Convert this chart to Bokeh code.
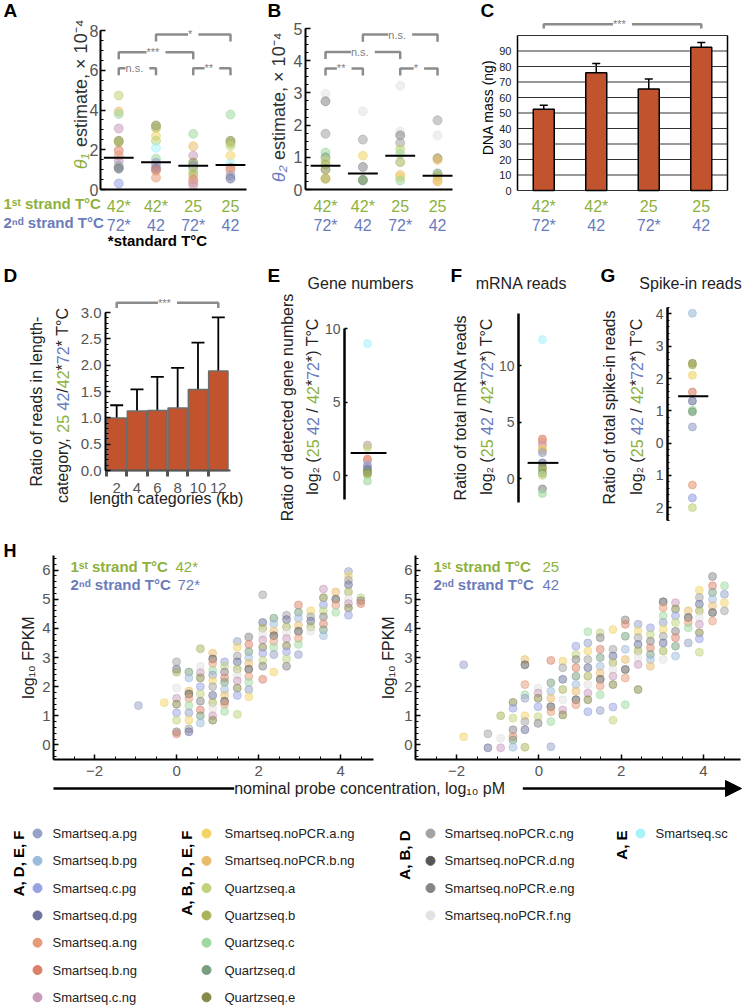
import math
from bokeh.plotting import figure
from bokeh.models import (Range1d, LinearAxis, FixedTicker, Label, Arrow, NormalHead,
                          Whisker, TeeHead, ColumnDataSource, PrintfTickFormatter)
from bokeh.layouts import column, row
from bokeh.embed import file_html
from bokeh.resources import INLINE
from bokeh.core.properties import value

FONT = "Liberation Sans"
GREEN = "#8db13c"
BLUE = "#6a7bbd"
DARK = "#222222"
TICKC = "#555555"
BAR = "#c1542f"
BRK = "#8c8c8c"

# ---------------- series / legend ----------------
SERIES = ["Smartseq.a.pg", "Smartseq.b.pg", "Smartseq.c.pg", "Smartseq.d.pg",
          "Smartseq.a.ng", "Smartseq.b.ng", "Smartseq.c.ng",
          "Smartseq.noPCR.a.ng", "Smartseq.noPCR.b.ng",
          "Quartzseq.a", "Quartzseq.b", "Quartzseq.c", "Quartzseq.d", "Quartzseq.e",
          "Smartseq.noPCR.c.ng", "Smartseq.noPCR.d.ng", "Smartseq.noPCR.e.ng", "Smartseq.noPCR.f.ng",
          "Smartseq.sc"]
SHORT = ["a.pg", "b.pg", "c.pg", "d.pg", "a.ng", "b.ng", "c.ng", "np.a", "np.b",
         "Q.a", "Q.b", "Q.c", "Q.d", "Q.e", "np.c", "np.d", "np.e", "np.f", "sc"]
COLORS = ["#96a2c8", "#9dbcdc", "#97a1e3", "#6e749e",
          "#e59b77", "#db816a", "#c99bbb",
          "#f2d466", "#eabb69",
          "#bfd479", "#aab35a", "#9ed99f", "#779f7f", "#858a4a",
          "#a3a3a3", "#565656", "#858585", "#e2e2e2",
          "#a6f3fa"]
GROUP_LABELS = ["A, D, E, F", "A, B, D, E, F", "A, B, D", "A, E"]
GROUP_SIZES = [7, 7, 4, 1]
CMAP = dict(zip(SHORT, COLORS))

# ---------------- panel A ----------------
COND_1ST = ["42*", "42*", "25", "25"]
COND_2ND = ["72*", "42", "72*", "42"]
A_COL = [1] * 13 + [2] * 11 + [3] * 11 + [4] * 10
A_VAL = [4.73, 3.92, 3.80, 3.07, 2.45, 2.38, 1.96, 1.70, 1.45, 1.20, 1.10, 1.05, 0.30,
         3.22, 3.10, 2.70, 2.45, 2.10, 1.55, 1.35, 1.20, 1.05, 0.95, 0.60,
         2.80, 2.17, 1.70, 1.35, 1.20, 1.10, 0.95, 0.75, 0.50, 0.35, 0.22,
         3.77, 2.45, 2.35, 2.20, 1.70, 1.30, 1.10, 0.95, 0.70, 0.55]
A_SER = ["Q.a", "np.b", "Q.c", "c.ng", "Q.e", "Q.b", "b.ng", "a.ng", "c.ng", "a.pg", "Q.b", "d.pg", "c.pg",
         "Q.e", "Q.b", "np.a", "Q.a", "sc", "Q.c", "a.pg", "c.ng", "d.pg", "b.ng", "a.ng",
         "Q.c", "np.b", "c.ng", "Q.e", "Q.d", "a.pg", "Q.a", "Q.b", "b.ng", "a.ng", "c.ng",
         "Q.c", "Q.e", "Q.b", "Q.a", "np.a", "sc", "b.ng", "a.ng", "a.pg", "d.pg"]
A_MEAN = [1.60, 1.37, 1.19, 1.23]
A_SIG = [(1, 2, "n.s."), (3, 4, "**"), (1, 3, "***"), (2, 4, "*")]

# ---------------- panel B ----------------
B_COL = [1] * 10 + [2] * 6 + [3] * 10 + [4] * 8
B_VAL = [2.97, 2.74, 1.73, 1.15, 1.00, 0.90, 0.78, 0.62, 0.35, 0.33,
         2.43, 1.55, 1.05, 0.70, 0.30, 0.28,
         3.22, 1.80, 1.68, 1.45, 1.25, 1.10, 0.85, 0.45, 0.38, 0.28,
         2.15, 1.68, 0.97, 0.92, 0.50, 0.42, 0.30, 0.25]
B_SER = ["np.f", "np.e", "np.c", "Q.c", "Q.d", "Q.a", "Q.b", "Q.e", "np.b", "Q.b",
         "np.f", "np.c", "np.a", "np.e", "Q.e", "Q.d",
         "np.f", "np.f", "np.e", "np.c", "Q.a", "Q.c", "Q.b", "np.b", "np.a", "Q.c",
         "np.c", "np.f", "Q.e", "np.b", "Q.d", "Q.b", "np.a", "np.b"]
B_MEAN = [0.74, 0.50, 1.05, 0.43]
B_SIG = [(1, 2, "**"), (3, 4, "*"), (1, 3, "n.s."), (2, 4, "n.s.")]

# ---------------- panel C ----------------
C_MEAN = [52.5, 76.0, 65.5, 92.5]
C_LO = [50.0, 70.0, 59.0, 89.0]
C_HI = [55.0, 82.0, 72.0, 95.5]
C_SIG = [(1, 4, "***")]

# ---------------- panel D ----------------
D_KB = [2, 4, 6, 8, 10, 12]
D_VAL = [1.00, 1.13, 1.14, 1.19, 1.54, 1.89]
D_LO = [0.75, 0.72, 0.49, 0.42, 0.62, 0.83]
D_HI = [1.24, 1.54, 1.78, 1.95, 2.43, 2.91]
D_SIG = [(2, 12, "***")]

# ---------------- panels E, F, G ----------------
E_VAL = [9.0, 2.1, 1.95, 1.15, 1.05, 0.75, 0.6, 0.45, 0.3, 0.2, 0.1, -0.35]
E_SER = ["sc", "c.ng", "Q.a", "b.ng", "a.ng", "c.pg", "a.pg", "d.pg", "Q.d", "Q.e", "Q.b", "Q.c"]
E_MEAN = 1.56
F_VAL = [12.3, 3.5, 3.25, 2.95, 2.65, 2.5, 2.3, 1.4, 1.0, 0.8, 0.5, 0.3, -0.9, -1.3]
F_SER = ["sc", "b.ng", "a.ng", "c.ng", "np.a", "np.b", "a.pg", "d.pg", "Q.e", "Q.b", "Q.d", "Q.a", "np.e", "Q.c"]
F_MEAN = 1.4
G_VAL = [4.02, 2.47, 2.42, 2.1, 1.58, 1.3, 1.02, 0.97, 0.5, -1.3, -1.7, -2.0]
G_SER = ["b.pg", "Q.e", "Q.b", "np.a", "b.ng", "d.pg", "Q.c", "Q.d", "a.pg", "a.ng", "c.pg", "Q.a"]
G_MEAN = 1.45

# ---------------- panel H ----------------
H_L_X = [-0.93, -0.3, 0.0, 0.3, 0.58, 0.88, 1.17, 1.48, 1.76, 2.1, 2.37, 2.68, 2.97, 3.27, 3.58, 3.88, 4.19, 4.49]
H_L_Y = [
    [1.35],
    [1.45],
    [2.85, 2.6, 2.5, 1.95, 1.6, 1.4, 1.1, 0.85, 0.45, 0.38],
    [2.5, 2.3, 1.85, 1.75, 1.6, 1.35, 1.1, 0.85, 0.55, 0.45],
    [3.3, 2.7, 2.48, 2.3, 2.0, 1.75, 1.5, 1.2, 1.0, 0.75],
    [3.15, 2.95, 2.8, 2.55, 2.4, 2.2, 2.0, 1.7, 1.45, 1.25, 1.0, 0.85],
    [2.85, 2.7, 2.5, 2.3, 2.15, 1.9, 1.7, 1.5, 1.4, 1.15],
    [3.55, 3.35, 3.05, 2.85, 2.6, 2.4, 2.2, 1.95, 1.7, 1.05],
    [3.7, 3.45, 3.2, 3.0, 2.8, 2.6, 2.35, 2.15, 1.9, 1.65],
    [5.15, 4.2, 4.0, 3.8, 3.6, 3.35, 3.15, 2.9, 2.7, 2.25],
    [4.35, 4.15, 3.9, 3.75, 3.55, 3.35, 3.1, 2.5],
    [4.45, 4.3, 4.05, 3.85, 3.65, 3.4, 3.2, 2.95, 2.7],
    [4.8, 4.55, 4.35, 4.1, 3.9, 3.65, 3.45, 3.1],
    [4.6, 4.4, 4.25, 4.05, 3.9],
    [5.35, 5.05, 4.8, 4.6, 4.4, 4.15, 3.95, 3.75],
    [5.25, 5.0, 4.8, 4.55],
    [5.95, 5.8, 5.65, 5.5, 5.25, 5.0, 4.85, 4.7, 4.45],
    [5.05, 4.95, 4.85],
]
H_R_X = [-1.83, -1.24, -0.93, -0.63, -0.34, -0.02, 0.29, 0.58, 0.9, 1.19, 1.49, 1.8, 2.1,
         2.41, 2.71, 3.02, 3.32, 3.63, 3.9, 4.22, 4.51]
H_R_Y = [
    [2.75, 0.28],
    [0.38, -0.1],
    [1.0, 0.23, -0.1],
    [1.46, 1.26, 0.92, 0.52, 0.28, 0.17, -0.08],
    [2.93, 2.75, 2.07, 1.72, 1.6, 1.0, 0.8, 0.52, -0.08],
    [1.95, 1.78, 1.6, 1.31, 0.97, 0.74],
    [2.9, 2.13, 1.84, 1.6, 1.31, 1.14, 0.8, -0.06],
    [2.88, 2.65, 2.25, 1.9, 1.55, 1.2, 1.03],
    [3.39, 3.1, 2.93, 2.65, 2.36, 2.07, 1.84, 1.55, 1.38],
    [3.88, 3.5, 3.22, 2.93, 2.65, 2.36, 2.07, 1.78, 1.55, 1.14],
    [3.85, 3.68, 3.28, 3.0, 2.7, 2.47, 2.25, 2.02, 1.72, 1.18],
    [3.96, 3.28, 3.05, 2.82, 2.59, 2.36, 2.07, 1.3, 0.85],
    [4.29, 4.14, 3.73, 3.28, 2.93, 2.59, 2.3, 1.38],
    [4.14, 3.9, 3.68, 3.45, 3.22, 3.0, 2.76, 1.9],
    [4.02, 3.79, 3.56, 3.33, 3.1, 2.93, 2.7],
    [4.91, 4.71, 4.43, 4.2, 3.96, 3.73, 3.5, 3.22, 2.93],
    [4.88, 4.66, 4.43, 4.2, 3.9, 3.68, 3.39, 3.05],
    [4.6, 4.37, 4.2, 4.02, 3.5],
    [5.31, 5.06, 4.83, 4.6, 4.37, 4.14, 3.85, 3.64, 3.18],
    [5.78, 5.46, 5.23, 5.0, 4.77, 4.54, 4.25],
    [5.46, 5.17, 4.88, 4.6],
]
H_TICKS_X = [-2, 0, 2, 4]
H_TICKS_Y = [0, 1, 2, 3, 4, 5, 6]

# ---------------- helpers ----------------
CW = {' ': 278, '(': 333, ')': 333, '*': 389, ',': 278, '-': 333, '.': 278, '/': 278,
      '°': 400, '×': 584, 'θ': 556, '₂': 400, '₁': 400, '₀': 400, '⁻': 350, '⁴': 400}
for ch, w in dict(A=667, B=667, C=722, D=722, E=667, F=611, G=778, H=722, I=278, J=500, K=667,
                  L=556, M=833, N=722, O=778, P=667, Q=778, R=722, S=667, T=611, U=722, V=667,
                  W=944, X=667, Y=667, Z=611, a=556, b=556, c=500, d=556, e=556, f=278, g=556,
                  h=556, i=222, j=222, k=500, l=222, m=833, n=556, o=556, p=556, q=556, r=333,
                  s=500, t=278, u=556, v=500, w=722, x=500, y=500, z=500).items():
    CW[ch] = w


def tw(s, size):
    return sum(CW.get(ch, 556) for ch in s) * size / 1000.0


def frange(a, b, step):
    n = int(round((b - a) / step))
    return [round(a + step * i, 4) for i in range(n + 1)]


class Panel:
    """A figure whose frame fills the whole canvas; (l, r, t, b) describe where the
    data area (xr, yr) sits inside it, so that axes (fixed_location) and texts can be
    drawn around it without being clipped."""

    def __init__(self, w, h, xr, yr, l, r, t, b):
        fw, fh = w - l - r, h - t - b
        self.ux = (xr[1] - xr[0]) / fw
        self.uy = (yr[1] - yr[0]) / fh
        self.xr, self.yr = xr, yr
        self.p = figure(width=w, height=h,
                        x_range=Range1d(xr[0] - l * self.ux, xr[1] + r * self.ux),
                        y_range=Range1d(yr[0] - b * self.uy, yr[1] + t * self.uy),
                        x_axis_type=None, y_axis_type=None, output_backend="svg",
                        toolbar_location=None, min_border_left=0, min_border_right=0,
                        min_border_top=0, min_border_bottom=0)
        self.p.outline_line_color = None

    def dx(self, px):
        return self.xr[0] + px * self.ux

    def dy(self, py):
        return self.yr[0] + py * self.uy

    def label(self, text, px, py, size=16, color=DARK, style="normal", align="left",
              baseline="middle", angle=0.0):
        self.p.add_layout(Label(x=self.dx(px), y=self.dy(py), text=text, text_font=FONT,
                                text_font_size=f"{size}px", text_color=color,
                                text_font_style=style, text_align=align,
                                text_baseline=baseline, angle=angle))

    def rot(self, pieces, cx, cy, size):
        total = sum(tw(t, size) for t, c, s in pieces)
        y = cy - total / 2
        for t, c, s in pieces:
            lead = len(t) - len(t.lstrip(" "))
            txt = t.strip(" ")
            if txt:
                self.label(txt, cx, y + tw(" " * lead, size), size, c, s, angle=math.pi / 2)
            y += tw(t, size)


def axis(pn, side, ticks, minor=(), size=15, color=TICKC, overrides=None, fmt=None, bounds=None,
         loc=None, line_color="black", line_width=2, tick_in=5, minor_in=3, standoff=4,
         tick_color="black"):
    if side == "left":
        loc = pn.xr[0] if loc is None else loc
        bounds = pn.yr if bounds is None else bounds
    else:
        loc = pn.yr[0] if loc is None else loc
        bounds = pn.xr if bounds is None else bounds
    ax = LinearAxis(ticker=FixedTicker(ticks=list(ticks), minor_ticks=list(minor)),
                    fixed_location=loc, bounds=tuple(bounds))
    ax.major_label_text_font = FONT
    ax.major_label_text_font_size = f"{size}px"
    ax.major_label_text_color = color
    ax.major_label_standoff = standoff
    ax.axis_line_color = line_color
    ax.axis_line_width = line_width
    ax.major_tick_line_color = tick_color
    ax.major_tick_line_width = 1.5
    ax.major_tick_in = tick_in
    ax.major_tick_out = 0
    ax.minor_tick_line_color = tick_color if minor else None
    ax.minor_tick_in = minor_in
    ax.minor_tick_out = 0
    if overrides:
        ax.major_label_overrides = overrides
    if fmt:
        ax.formatter = PrintfTickFormatter(format=fmt)
    pn.p.add_layout(ax, side)
    return ax


def cat_axes(pn, top, bot, size=16, line=True, standoff=8, gap=19):
    for labels, color, loc, lc in ((top, GREEN, pn.yr[0], "black" if line else None),
                                   (bot, BLUE, pn.dy(-gap), None)):
        ax = LinearAxis(ticker=FixedTicker(ticks=[1, 2, 3, 4]), fixed_location=loc,
                        bounds=tuple(pn.xr),
                        major_label_overrides={i + 1: t for i, t in enumerate(labels)})
        ax.major_tick_line_color = None
        ax.minor_tick_line_color = None
        ax.major_tick_out = 0
        ax.major_tick_in = 0
        ax.axis_line_color = lc
        ax.axis_line_width = 2
        ax.major_label_standoff = standoff
        ax.major_label_text_color = color
        ax.major_label_text_font = FONT
        ax.major_label_text_font_size = f"{size}px"
        pn.p.add_layout(ax, "below")


def sig_label(pn, x, y, text, size=11):
    pn.p.add_layout(Label(x=x, y=y, text=f" {text} ", text_font=FONT, text_font_size=f"{size}px",
                          text_color="#808080", text_align="center", text_baseline="middle",
                          background_fill_color="white"))


def bracket(pn, x1, x2, y, drop, text):
    pn.p.multi_line(xs=[[x1, x1, x2, x2]], ys=[[y - drop, y, y, y - drop]],
                    line_color=BRK, line_width=2.5)
    sig_label(pn, (x1 + x2) / 2, y, text)


def dots(pn, xs, vals, sers, size, alpha=0.55):
    src = ColumnDataSource(dict(x=xs, y=vals, c=[CMAP[s] for s in sers]))
    pn.p.scatter("x", "y", source=src, size=size, color="c", alpha=alpha)


LOG2 = [("log₂ (", DARK, "normal"), ("25", GREEN, "normal"), (" 42", BLUE, "normal"),
        (" / ", DARK, "normal"), ("42", GREEN, "normal"), ("*", DARK, "normal"),
        ("72", BLUE, "normal"), ("*", DARK, "normal"), (") T°C", DARK, "normal")]

# ================= A =================
A = Panel(248, 250, (0.51, 4.43), (0, 8), 100, 2, 30, 61)
axis(A, "left", [0, 2, 4, 6, 8], frange(0, 8, 0.5), size=16, standoff=2)
cat_axes(A, COND_1ST, COND_2ND)
dots(A, A_COL, A_VAL, A_SER, 9)
A.p.segment(x0=[c - 0.4 for c in range(1, 5)], x1=[c + 0.4 for c in range(1, 5)],
            y0=A_MEAN, y1=A_MEAN, line_color="black", line_width=2)
for (i, j, t), h in zip(A_SIG, [6.1, 6.1, 6.9, 7.8]):
    bracket(A, i, j, h, 0.35, t)
A.label("A", -97, 179, 19, "black", "bold")
A.rot([("θ₁", GREEN, "italic"), (" estimate, × 10⁻⁴", "#333333", "normal")], -20, 95, 18)
A.label("1ˢᵗ strand T°C", -97, -14, 15, GREEN, "bold")
A.label("2ⁿᵈ strand T°C", -97, -33, 15, BLUE, "bold")
A.label("*standard T°C", 57, -51, 15, "black", "bold", align="center")

# ================= B =================
B = Panel(230, 250, (0.464, 4.40), (0, 5), 57, 26, 28, 61)
axis(B, "left", [0, 1, 2, 3, 4, 5], frange(0, 5, 0.25), size=16, standoff=3)
cat_axes(B, COND_1ST, COND_2ND)
dots(B, B_COL, B_VAL, B_SER, 9)
B.p.segment(x0=[c - 0.4 for c in range(1, 5)], x1=[c + 0.4 for c in range(1, 5)],
            y0=B_MEAN, y1=B_MEAN, line_color="black", line_width=2)
for (i, j, t), h in zip(B_SIG, [3.76, 3.76, 4.27, 4.81]):
    bracket(B, i, j, h, 0.22, t)
B.label("B", -38, 179, 19, "black", "bold")
B.rot([("θ₂", BLUE, "italic"), (" estimate, × 10⁻⁴", "#333333", "normal")], -27, 82, 18)

# ================= C =================
C = Panel(266, 250, (0.5, 4.5), (0, 100), 39, 17, 35, 60)
C_GRID = list(range(0, 101, 10))
C.p.segment(x0=[C.xr[0]] * len(C_GRID), x1=[C.xr[1]] * len(C_GRID), y0=C_GRID, y1=C_GRID,
            line_color="#333333", line_width=1)
C.p.segment(x0=[C.xr[0], C.xr[1]], x1=[C.xr[0], C.xr[1]], y0=[0, 0], y1=[100, 100],
            line_color="black", line_width=1.5)
axis(C, "left", range(0, 91, 10), size=11, color="#222222", line_color=None, tick_color=None,
     tick_in=0, standoff=6)
cat_axes(C, COND_1ST, COND_2ND, line=False, standoff=7)
C.p.vbar(x=[1, 2, 3, 4], top=C_MEAN, width=0.4, bottom=0, fill_color=BAR, line_color="black",
         line_width=1.5)
srcC = ColumnDataSource(dict(x=[1, 2, 3, 4], lo=C_LO, hi=C_HI))
C.p.add_layout(Whisker(source=srcC, base="x", lower="lo", upper="hi", line_color="black",
                       line_width=1.5,
                       upper_head=TeeHead(size=8, line_width=1.5, line_color="black"),
                       lower_head=TeeHead(size=8, line_width=1.5, line_color="black")))
for (i, j, t) in C_SIG:
    bracket(C, i, j, 107.2, 2.7, t)
C.label("C", -37, 180, 19, "black", "bold")
C.label("DNA mass (ng)", -30, 83, 14, "black", align="center", angle=math.pi / 2)

# ================= D =================
D = Panel(250, 290, (0.9, 13.2), (0, 3.25), 105, 20, 49, 70)
axis(D, "left", frange(0, 3, 0.5), frange(0, 3, 0.1), size=15, fmt="%.1f", bounds=(0, 3),
     standoff=4)
dax = axis(D, "below", D_KB, [1, 3, 5, 7, 9, 11], size=15, line_color="#555555", tick_color=None,
           tick_in=0, standoff=6)
dax.minor_tick_line_color = "#555555"
dax.minor_tick_line_width = 3
dax.minor_tick_in = 0
dax.minor_tick_out = 6
D.p.vbar(x=D_KB, top=D_VAL, width=1.9, bottom=0, fill_color=BAR, line_color="#6d6d6d",
         line_width=1.5)
srcD = ColumnDataSource(dict(x=D_KB, lo=D_LO, hi=D_HI))
D.p.add_layout(Whisker(source=srcD, base="x", lower="lo", upper="hi", line_color="black",
                       line_width=1.8,
                       upper_head=TeeHead(size=13, line_width=1.8, line_color="black"),
                       lower_head=TeeHead(size=13, line_width=1.8, line_color="black")))
for (i, j, t) in D_SIG:
    bracket(D, i, j, 3.19, 0.1, t)
D.label("D", -102, 195, 19, "black", "bold")
D.label("Ratio of reads in length-", -69, 69, 16, DARK, align="center", angle=math.pi / 2)
D.rot([("category, ", DARK, "normal"), ("25", GREEN, "normal"), (" 42", BLUE, "normal"),
       ("/", DARK, "normal"), ("42", GREEN, "normal"), ("*", DARK, "normal"),
       ("72", BLUE, "normal"), ("*", DARK, "normal"), (" T°C", DARK, "normal")], -43, 65, 16)
D.label("length categories (kb)", 61, -28, 16, DARK, align="center")

# ================= E =================
E = Panel(200, 290, (-0.41, 0.59), (-1.6, 10.3), 94, 50, 74, 41)
axis(E, "left", [0, 5, 10], size=14, bounds=(-1.6, 10), tick_in=3, standoff=4, line_width=2.5)
dots(E, [0] * len(E_VAL), E_VAL, E_SER, 8, 0.6)
E.p.segment(x0=[-0.3], x1=[0.34], y0=[E_MEAN], y1=[E_MEAN], line_color="black", line_width=2)
E.label("E", -77, 224, 19, "black", "bold")
E.label("Gene numbers", 16, 216, 16, DARK, align="center")
E.label("Ratio of detected gene numbers", -57, 92, 16, DARK, align="center", angle=math.pi / 2)
E.rot(LOG2, -32, 93, 16)

# ================= F =================
F = Panel(150, 290, (-0.42, 0.58), (-2.1, 14.6), 68, 25, 63, 38)
axis(F, "left", [0, 5, 10], size=14, tick_in=3, standoff=4, line_width=2.5)
dots(F, [0] * len(F_VAL), F_VAL, F_SER, 8, 0.6)
F.p.segment(x0=[-0.26], x1=[0.28], y0=[F_MEAN], y1=[F_MEAN], line_color="black", line_width=2)
F.label("F", -68, 227, 19, "black", "bold")
F.label("mRNA reads", 3, 219, 16, DARK, align="center")
F.label("Ratio of total mRNA reads", -58, 95, 16, DARK, align="center", angle=math.pi / 2)
F.rot(LOG2, -32, 96, 16)

# ================= G =================
G = Panel(144, 290, (-0.47, 0.53), (-2.4, 4.2), 67, 24, 57, 20)
axis(G, "left", [-2, -1, 0, 1, 2, 3, 4], frange(-2.4, 4.2, 0.2), size=14,
     overrides={-2: "2", -1: "1"}, tick_in=4, minor_in=2, standoff=4, line_width=2.5)
dots(G, [0] * len(G_VAL), G_VAL, G_SER, 8, 0.6)
G.p.segment(x0=[-0.27], x1=[0.3], y0=[G_MEAN], y1=[G_MEAN], line_color="black", line_width=2)
G.label("G", -67, 245, 19, "black", "bold")
G.label("Spike-in reads", 23, 237, 16, DARK, align="center")
G.label("Ratio of total spike-in reads", -58, 113, 16, DARK, align="center", angle=math.pi / 2)
G.rot(LOG2, -31, 114, 16)


# ================= H =================
def h_points(pn, X, Y):
    xs, ys, cs = [], [], []
    k = 0
    for x, col in zip(X, Y):
        for yv in col:
            xs.append(x)
            ys.append(yv)
            cs.append(COLORS[(k * 7) % 18])
            k += 1
    pn.p.scatter(xs, ys, size=8, color=cs, alpha=0.5)


def h_axes(pn):
    axis(pn, "left", H_TICKS_Y, frange(-0.4, 6.4, 0.2), size=15, standoff=3, tick_in=5,
         minor_in=3)
    axis(pn, "below", H_TICKS_X, frange(-3, 4.5, 0.5), size=15, overrides={-2: "−2"},
         standoff=6, tick_in=5, minor_in=3)


HL = Panel(380, 239, (-3, 4.8), (-0.5, 6.5), 53, 7, 15, 20)
h_axes(HL)
h_points(HL, H_L_X, H_L_Y)
HL.label("H", -50, 209, 18, "black", "bold")
HL.label("log₁₀ FPKM", -25, 102, 16, DARK, align="center", angle=math.pi / 2)
HL.label("1ˢᵗ strand T°C", 17, 193, 15, GREEN, "bold")
HL.label(COND_1ST[0], 122, 193, 15, GREEN)
HL.label("2ⁿᵈ strand T°C", 17, 175, 15, BLUE, "bold")
HL.label(COND_2ND[0], 124, 175, 15, BLUE)

HR = Panel(364, 239, (-3, 4.9), (-0.5, 6.5), 35, 4, 15, 20)
h_axes(HR)
h_points(HR, H_R_X, H_R_Y)
HR.label("log₁₀ FPKM", -27, 102, 16, DARK, align="center", angle=math.pi / 2)
HR.label("1ˢᵗ strand T°C", 18, 193, 15, GREEN, "bold")
HR.label(COND_1ST[3], 127, 193, 15, GREEN)
HR.label("2ⁿᵈ strand T°C", 18, 175, 15, BLUE, "bold")
HR.label(COND_2ND[3], 127, 175, 15, BLUE)

# ---------------- shared x-axis arrow ----------------
AR = figure(width=744, height=21, x_range=Range1d(0, 744), y_range=Range1d(0, 21),
            x_axis_type=None, y_axis_type=None, output_backend="svg", toolbar_location=None,
            min_border_left=0, min_border_right=0, min_border_top=0, min_border_bottom=0)
AR.outline_line_color = None
AR.add_layout(Arrow(end=NormalHead(size=16, fill_color="black", line_color="black"),
                    x_start=53, y_start=12, x_end=741, y_end=12, line_color="black",
                    line_width=2.5))
AR.add_layout(Label(x=378, y=12, text="  nominal probe concentration, log₁₀ pM  ",
                    text_font=FONT, text_font_size="16px", text_color=DARK, text_align="center",
                    text_baseline="middle", background_fill_color="white"))

# ---------------- legend ----------------
LG_H = 206
LG = figure(width=744, height=LG_H, x_range=Range1d(0, 744), y_range=Range1d(0, LG_H),
            x_axis_type=None, y_axis_type=None, output_backend="svg", toolbar_location=None,
            min_border_left=0, min_border_right=0, min_border_top=0, min_border_bottom=0)
LG.outline_line_color = None
GX = [(18, 37, 52), (186, 206, 224), (404, 430, 444), (621, 640, 655)]
lx, ly, lc, ln, tx = [], [], [], [], []
gx, gy, gt = [], [], []
k = 0
for g, (lab, n) in enumerate(zip(GROUP_LABELS, GROUP_SIZES)):
    gx.append(GX[g][0])
    gy.append(LG_H - 30)
    gt.append(lab)
    for i in range(n):
        lx.append(GX[g][1])
        tx.append(GX[g][2])
        ly.append(LG_H - 33 - 27.3 * i)
        lc.append(COLORS[k])
        ln.append(SERIES[k])
        k += 1
LG.scatter(lx, ly, size=9, color=lc)
LG.text(x=tx, y=ly, text=ln, text_font=value(FONT), text_font_size=value("13px"),
        text_baseline="middle", text_align="left", text_color="#222222")
LG.text(x=gx, y=gy, text=gt, text_font=value(FONT), text_font_size=value("15px"),
        text_font_style="bold", text_baseline="middle", text_align="right",
        text_color="black", angle=math.pi / 2)

layout = column(row(A.p, B.p, C.p), row(D.p, E.p, F.p, G.p), row(HL.p, HR.p), AR, LG)

with open("out.html", "w") as fh:
    fh.write(file_html(layout, INLINE))
